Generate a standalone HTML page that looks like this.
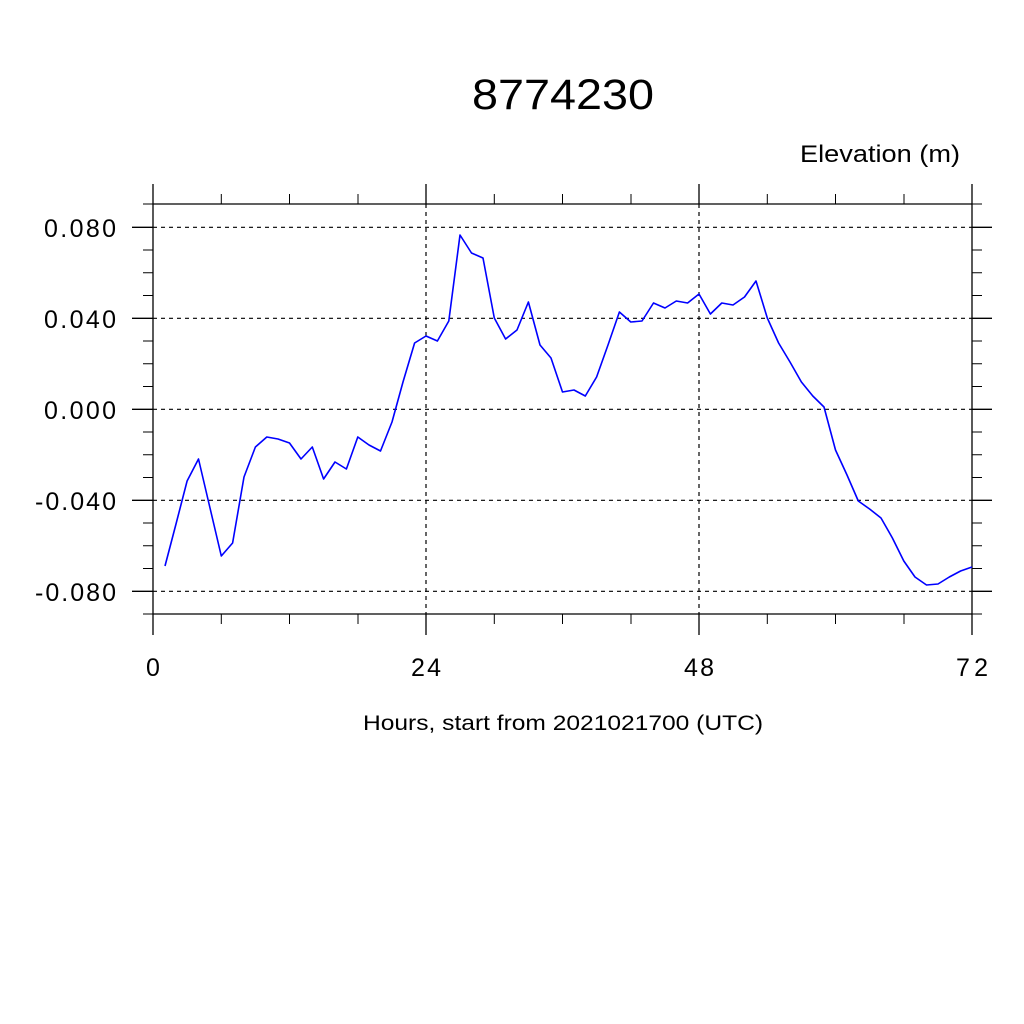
<!DOCTYPE html>
<html><head><style>html,body{margin:0;padding:0;background:#fff}svg{display:block}</style></head><body>
<svg width="1024" height="1024" viewBox="0 0 1024 1024" xmlns="http://www.w3.org/2000/svg" font-family="Liberation Sans, sans-serif">
<rect width="1024" height="1024" fill="#fff"/>
<text x="472" y="109" font-size="43" textLength="182" lengthAdjust="spacingAndGlyphs">8774230</text>
<text x="800" y="162" font-size="24" textLength="160" lengthAdjust="spacingAndGlyphs">Elevation (m)</text>
<g stroke="#000" stroke-width="1.2" stroke-dasharray="4,4" fill="none">
<line x1="153" y1="227.3" x2="972" y2="227.3"/>
<line x1="153" y1="318.3" x2="972" y2="318.3"/>
<line x1="153" y1="409.3" x2="972" y2="409.3"/>
<line x1="153" y1="500.3" x2="972" y2="500.3"/>
<line x1="153" y1="591.3" x2="972" y2="591.3"/>
<line x1="426" y1="204" x2="426" y2="614"/>
<line x1="699" y1="204" x2="699" y2="614"/>
</g>
<g stroke="#000" stroke-width="1.3" fill="none">
<line x1="153" y1="204" x2="972" y2="204"/>
<line x1="153" y1="614" x2="972" y2="614"/>
<line x1="153" y1="184" x2="153" y2="635"/>
<line x1="972" y1="184" x2="972" y2="635"/>
<line x1="426" y1="184" x2="426" y2="204"/><line x1="426" y1="614" x2="426" y2="635"/>
<line x1="699" y1="184" x2="699" y2="204"/><line x1="699" y1="614" x2="699" y2="635"/>
<path d="M221.3 194V204M289.5 194V204M358 194V204M494.3 194V204M562.5 194V204M631 194V204M767.3 194V204M835.5 194V204M904 194V204
M221.3 614V624M289.5 614V624M358 614V624M494.3 614V624M562.5 614V624M631 614V624M767.3 614V624M835.5 614V624M904 614V624" stroke-width="1"/>
<path d="M132 227.3H153M132 318.3H153M132 409.3H153M132 500.3H153M132 591.3H153
M972 227.3H992M972 318.3H992M972 409.3H992M972 500.3H992M972 591.3H992"/>
<path d="M143 204H153M143 250H153M143 272.8H153M143 295.5H153M143 341H153M143 363.8H153M143 386.5H153M143 432H153M143 454.8H153M143 477.5H153M143 523H153M143 545.8H153M143 568.5H153M143 614H153
M972 204H982M972 250H982M972 272.8H982M972 295.5H982M972 341H982M972 363.8H982M972 386.5H982M972 432H982M972 454.8H982M972 477.5H982M972 523H982M972 545.8H982M972 568.5H982M972 614H982" stroke-width="1"/>
</g>
<polyline fill="none" stroke="#0000ff" stroke-width="1.6" stroke-linejoin="round" points="165,566 176,524 187.1,481 198.5,459 210,508 221.3,556 232.6,543 244,477 255.4,447 266.8,437 278,439 289.5,443 301,459 312.3,447 323.6,479 335,462 346.4,469 357.8,437 369,445 380.5,451 392,422 403,382 414.6,343 426,336 437.4,341 448.8,321 460,235 471.5,253 483,258 494.3,318 505.6,339 517,330 528.4,302 540,345 551,358 562.5,392 574,390 585.3,396 596.6,377 608,345 619.4,312 630.8,322 642,321 653.5,303 665,308 676.3,301 687.6,303 699,294 710.4,314 721.8,303 733,305 744.5,297 756,281 767.3,318 778.6,343 790,362 801.4,382 812.8,396 824,407 835.5,450 847,475 858.3,501 869.6,509 881,518 892.4,538 903.8,561 915,577 926.5,585 938,584 949.3,577 960.6,571 972,567"/>
<g font-size="25" lengthAdjust="spacingAndGlyphs">
<text x="44" y="237" textLength="72">0.080</text>
<text x="44" y="328" textLength="72">0.040</text>
<text x="44" y="419" textLength="72">0.000</text>
<text x="35" y="510" textLength="81">-0.040</text>
<text x="35" y="601" textLength="81">-0.080</text>
</g>
<g font-size="25" lengthAdjust="spacingAndGlyphs">
<text x="146" y="676" textLength="15">0</text>
<text x="411" y="676" textLength="30">24</text>
<text x="684" y="676" textLength="30">48</text>
<text x="956" y="676" textLength="32">72</text>
</g>
<text x="363" y="730" font-size="21" textLength="400" lengthAdjust="spacingAndGlyphs">Hours, start from 2021021700 (UTC)</text>
</svg>
</body></html>
